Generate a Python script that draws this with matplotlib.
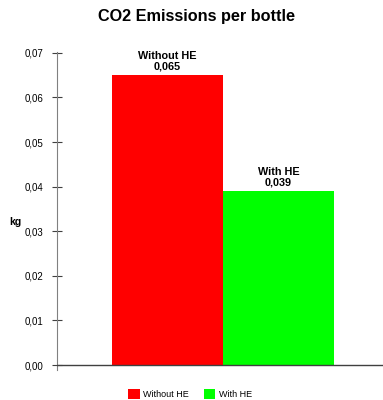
import matplotlib
matplotlib.use('Agg')
import matplotlib.pyplot as plt
from matplotlib.patches import Patch

plt.rcParams['font.family'] = ['Liberation Sans', 'DejaVu Sans']

categories = ['Without HE', 'With HE']
emissions = [0.065, 0.039]
bar_colors = ['#ff0000', '#00ff00']
y_ticks = [0.00, 0.01, 0.02, 0.03, 0.04, 0.05, 0.06, 0.07]

fig = plt.figure(figsize=(3.83, 4.0), dpi=100)
# axes box in pixels: x 57..383, y 52..370
W, H = 383.0, 400.0
ax = fig.add_axes([57 / W, 1 - 370 / H, (383 - 57) / W, (370 - 52) / H])

xs = list(range(len(categories)))
ax.bar(xs, emissions, width=1.0, color=bar_colors, edgecolor='none', zorder=2)

for x, name, v in zip(xs, categories, emissions):
    ax.annotate('%s\n%s' % (name, ('%.3f' % v).replace('.', ',')),
                xy=(x, v), xytext=(0, 2.5), textcoords='offset points',
                ha='center', va='bottom', fontsize=7.8, fontweight='bold',
                linespacing=1.05)

ax.set_xlim(-0.995, 1.94)
ax.set_ylim(-0.0011, 0.0702)
ax.axhline(0, color='#404040', lw=1.0, zorder=3)

for s in ['top', 'right', 'bottom']:
    ax.spines[s].set_visible(False)
ax.spines['left'].set_color('#808080')
ax.spines['left'].set_bounds(-0.0011, 0.0702)

ax.set_xticks([])
ax.set_yticks(y_ticks)
ax.set_yticklabels([('%.2f' % t).replace('.', ',') for t in y_ticks], fontsize=7)
ax.tick_params(axis='y', direction='inout', length=7, width=0.8, color='#404040', pad=6)

fig.text(15 / W, 1 - 222 / H, 'kg', fontsize=7.5, fontweight='bold', ha='center', va='center')
fig.text(197 / W, 1 - 17 / H, 'CO2 Emissions per bottle', fontsize=11.7, fontweight='bold',
         ha='center', va='center')

handles = [Patch(facecolor=c, edgecolor='none') for c in bar_colors]
fig.legend(handles, categories, loc='center', bbox_to_anchor=(190 / W, 1 - 394 / H),
           ncol=2, frameon=False, fontsize=6.5, handlelength=1.3, handleheight=1.4,
           handletextpad=0.4, columnspacing=1.65)

fig.savefig('out.png', dpi=100)
